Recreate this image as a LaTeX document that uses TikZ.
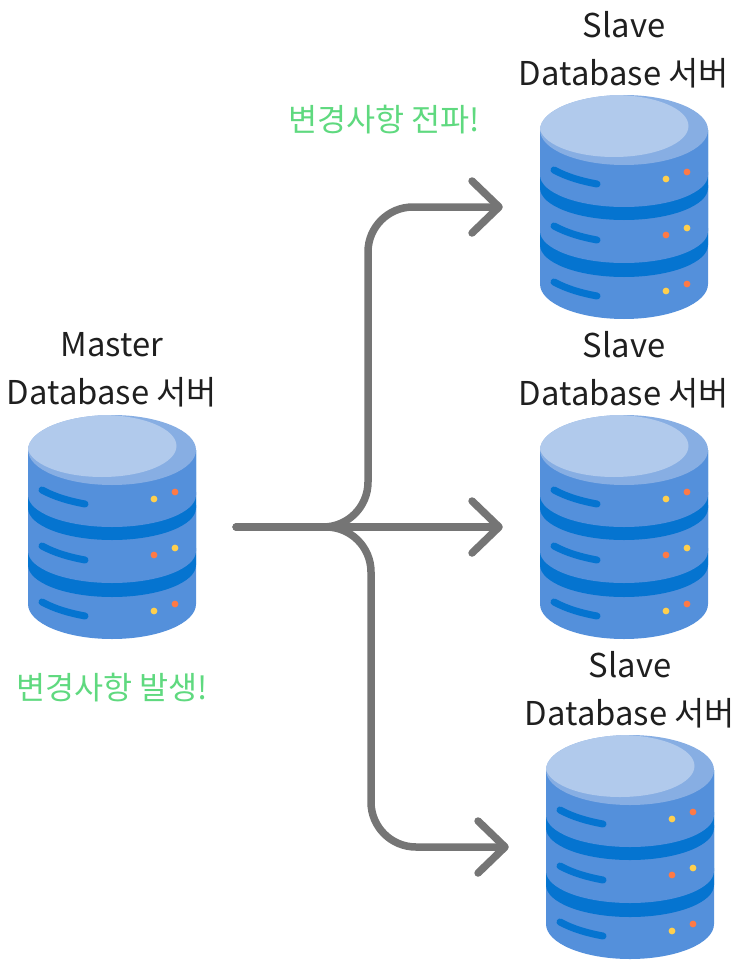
\documentclass[tikz,border=0pt]{standalone}
\usepackage{fontspec}
\setmainfont{Noto Sans CJK KR}
\usetikzlibrary{arrows.meta,positioning}
\definecolor{Ink}{HTML}{1F1F1F}
\definecolor{Conn}{HTML}{757575}
\definecolor{Note}{HTML}{5FD97F}
\definecolor{Body}{HTML}{5490DB}
\definecolor{Band}{HTML}{0574D0}
\definecolor{TopDark}{HTML}{87AEE3}
\definecolor{TopPale}{HTML}{B1CAEC}
\definecolor{DotY}{HTML}{FFCF4D}
\definecolor{DotO}{HTML}{FF7A45}
\newcommand{\layer}[4]{\fill[#3] (-84,#1) -- (-84,#2) arc[start angle=180,end angle=360,x radius=84pt,y radius=#4pt] -- (84,#1) -- cycle;}
\newcommand{\rack}[3]{%
  \draw[Band,line width=7pt,line cap=round] (-70,#1-14) .. controls (-57,#1-7) and (-43,#1-3) .. (-27,#1);
  \fill[#2] (42,#1-5) circle (3.4pt);
  \fill[#3] (63,#1-12) circle (3.4pt);
}
\tikzset{
  dbnode/.style={minimum width=248pt,minimum height=224pt,inner sep=0pt},
  title/.style={align=center,text=Ink,font=\fontsize{32.8}{48}\selectfont,inner sep=0pt},
  note/.style={text=Note,font=\fontsize{31.6}{38}\selectfont,inner sep=0pt},
  conn/.style={draw=Conn,line width=7.5pt,line cap=round,rounded corners=45pt,shorten >=-3pt,-{Straight Barb[length=27pt,width=52pt,line width=7.5pt,round]}},
  dbicon/.pic={
    \layer{21}{77}{Body}{35}
    \layer{-22}{38}{Band}{32}
    \layer{-35}{24}{Body}{32}
    \layer{-77}{-19}{Band}{32}
    \layer{-77}{-32}{Body}{32}
    \fill[TopDark] (0,-77) ellipse[x radius=84pt,y radius=35pt];
    \begin{scope}
      \clip (0,-77) ellipse[x radius=84pt,y radius=35pt];
      \fill[TopPale] (-10,-81) ellipse[x radius=74.5pt,y radius=31pt];
    \end{scope}
    \rack{-23}{DotY}{DotO}
    \rack{33}{DotO}{DotY}
    \rack{89}{DotY}{DotO}
  },
}
\begin{document}
\begin{tikzpicture}[x=1pt,y=-1pt,line join=round]
\useasboundingbox (0,0) rectangle (742,960);
\node[dbnode] (master) at (112,527) {};
\node[dbnode] (slaveA) at (624,207) {};
\node[dbnode] (slaveB) at (624,527) {};
\node[dbnode] (slaveC) at (630,847) {};
\pic at (master) {dbicon};
\pic at (slaveA) {dbicon};
\pic at (slaveB) {dbicon};
\pic at (slaveC) {dbicon};
\node[title] (masterlbl) at (112,370) {Master\\Database 서버};
\node[title] (slaveAlbl) at (624,50) {Slave\\Database 서버};
\node[title] (slaveBlbl) at (624,370) {Slave\\Database 서버};
\node[title] (slaveClbl) at (630,690) {Slave\\Database 서버};
\node[note] (sent) at (384,120) {변경사항 전파!};
\node[note] (changed) at (112,688) {변경사항 발생!};
\coordinate (forkup) at (368,527);
\coordinate (forkdown) at (371,527);
\draw[conn] (master.east) -- (forkup) -- (forkup |- slaveA) -- (slaveA.west);
\draw[conn] (master.east) -- (slaveB.west);
\draw[conn] (master.east) -- (forkdown) -- (forkdown |- slaveC) -- (slaveC.west);
\end{tikzpicture}
\end{document}
